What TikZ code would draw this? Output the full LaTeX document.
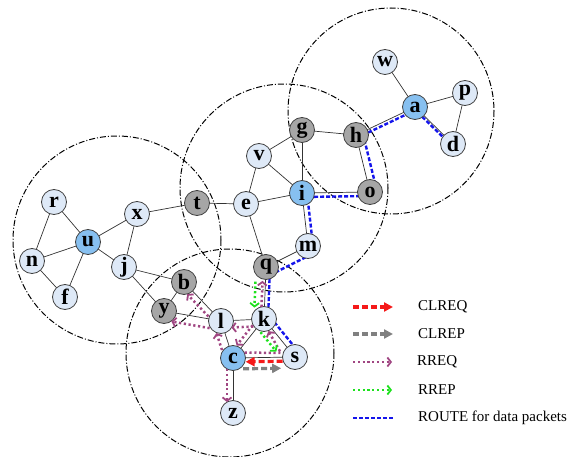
\documentclass[tikz,border=0pt]{standalone}
\usepackage{fontspec}
\setmainfont{Liberation Serif}
\usetikzlibrary{calc,arrows.meta,backgrounds}
\definecolor{nfill}{RGB}{222,233,247}
\definecolor{gfill}{RGB}{166,166,166}
\definecolor{hfill}{RGB}{135,192,240}
\definecolor{rreqc}{RGB}{160,70,130}
\definecolor{rrepc}{RGB}{30,225,30}
\definecolor{clreqc}{RGB}{245,25,25}
\definecolor{clrepc}{RGB}{128,128,128}
\definecolor{routec}{RGB}{20,20,235}
% offset line: style, from, to, offset (positive = left side), shorten start, shorten end
\newcommand\offl[6]{\draw[#1] ($($(#2)!#5!(#3)$)!#4!90:(#3)$) -- ($($(#3)!#6!(#2)$)!#4!-90:(#2)$);}
\begin{document}
\begin{tikzpicture}[x=1pt,y=-1pt,
  nd/.style={circle,draw=black!75,line width=0.8pt,minimum size=25pt,inner sep=0pt,
    font=\fontsize{22}{22}\selectfont\bfseries},
  plain/.style={nd,fill=nfill},
  gate/.style={nd,fill=gfill},
  head/.style={nd,fill=hfill},
  edge/.style={draw=black!80,line width=0.7pt},
  zone/.style={draw=black,line width=1pt,dash pattern=on 6pt off 2pt on 1pt off 2pt},
  route/.style={draw=routec,line width=2.4pt,dash pattern=on 4pt off 2pt},
  clreq/.style={draw=clreqc,line width=3.2pt,dash pattern=on 6pt off 3pt,
    -{Triangle[length=9pt,width=9pt]}},
  clrep/.style={draw=clrepc,line width=3.2pt,dash pattern=on 6pt off 3pt,
    -{Triangle[length=9pt,width=9pt]}},
  rreq/.style={draw=rreqc,line width=2.5pt,dash pattern=on 2.2pt off 2.6pt,
    -{Straight Barb[length=3.5pt,width=9pt,line width=1.8pt]}},
  rrep/.style={draw=rrepc,line width=2.5pt,dash pattern=on 2.2pt off 2.6pt,
    -{Straight Barb[length=3.5pt,width=9pt,line width=1.8pt]}},
  legtext/.style={anchor=west,inner sep=0pt,font=\fontsize{15}{15}\selectfont}
]
\useasboundingbox (0,0) rectangle (575,457);
% nodes
\path
  (385,62)  node[plain] (w) {w}
  (415,107) node[head]  (a) {a}
  (465,93)  node[plain] (p) {p}
  (453,144) node[plain] (d) {d}
  (356,135) node[gate]  (h) {h}
  (302,130) node[gate]  (g) {g}
  (370,192) node[gate]  (o) {o}
  (302,193) node[head]  (i) {i}
  (259,156) node[plain] (v) {v}
  (246,204) node[plain] (e) {e}
  (197,203) node[gate]  (t) {t}
  (308,246) node[plain] (m) {m}
  (266,267) node[gate]  (q) {q}
  (54,202)  node[plain] (r) {r}
  (88,242)  node[head]  (u) {u}
  (137,214) node[plain] (x) {x}
  (32,261)  node[plain] (n) {n}
  (65,297)  node[plain] (f) {f}
  (124,267) node[plain] (j) {j}
  (184,282) node[gate]  (b) {b}
  (164,311) node[gate]  (y) {y}
  (221,321) node[plain] (l) {l}
  (264,319) node[plain] (k) {k}
  (233,358) node[head]  (c) {c}
  (295,357) node[plain] (s) {s}
  (233,413) node[plain] (z) {z};
\begin{pgfonlayer}{background}
% zones
\coordinate (Z1) at (117,240);
\coordinate (Z2) at (284,188);
\coordinate (Z3) at (230,353);
\coordinate (Z4) at (391,111);
\draw[zone] (Z1) circle[radius=104];
\draw[zone] (Z2) circle[radius=104];
\draw[zone] (Z3) circle[radius=104];
\draw[zone] (Z4) circle[radius=103];
% edges
\foreach \u/\v in {w/a,a/p,p/d,a/d,a/h,h/g,h/o,g/i,g/v,v/i,v/e,e/t,e/i,i/o,i/m,m/q,e/q,
  t/x,x/u,x/j,u/r,u/n,u/f,u/j,r/n,n/f,j/b,j/y,b/y,y/l,b/l,l/k,l/c,k/c,k/s,c/s,k/q,c/z}
  \draw[edge] (\u.center) -- (\v.center);
% route for data packets
\offl{route}{s.center}{k.center}{-6pt}{0pt}{0pt}
\offl{route}{k.center}{q.center}{-4pt}{0pt}{0pt}
\offl{route}{q.center}{m.center}{-9pt}{0pt}{0pt}
\offl{route}{m.center}{i.center}{-5pt}{0pt}{0pt}
\offl{route}{i.center}{o.center}{-4pt}{0pt}{0pt}
\offl{route}{o.center}{h.center}{-7pt}{0pt}{0pt}
\offl{route}{h.center}{a.center}{-3pt}{0pt}{0pt}
\offl{route}{a.center}{d.center}{-2pt}{0pt}{0pt}
\end{pgfonlayer}
% CLREQ / CLREP
\offl{clreq}{s}{c}{4pt}{12.5pt}{12.5pt}
\offl{clrep}{c}{s}{-11pt}{10pt}{14pt}
% RREQ
\offl{rreq}{c}{l}{8pt}{11pt}{10pt}
\offl{rreq}{c}{z}{-6pt}{11pt}{11pt}
\offl{rreq}{l}{y}{9pt}{10pt}{9pt}
\offl{rreq}{l}{b}{6pt}{12pt}{11pt}
\offl{rreq}{k}{l}{7pt}{11pt}{10pt}
\offl{rreq}{k}{c}{-5pt}{12pt}{12pt}
\offl{rreq}{k}{q}{3pt}{12pt}{14pt}
\draw[rreq] (c.25) -- ($(s)+(-14,-4)$) -- (k.-70);
% RREP
\offl{rrep}{q}{k}{-10pt}{15pt}{11pt}
\offl{rrep}{k}{s}{-11pt}{8pt}{16pt}
% legend
\node[legtext] (L1) at (418,307) {CLREQ};
\node[legtext] (L2) at (418,334) {CLREP};
\node[legtext] (L3) at (417,362) {RREQ};
\node[legtext] (L4) at (418,390) {RREP};
\node[legtext] (L5) at (418,418) {ROUTE for data packets};
\coordinate (L1a) at (353,307); \coordinate (L1b) at (393,307);
\coordinate (L2a) at (353,334); \coordinate (L2b) at (393,334);
\coordinate (L3a) at (353,362); \coordinate (L3b) at (392,362);
\coordinate (L4a) at (353,390); \coordinate (L4b) at (392,390);
\coordinate (L5a) at (353,418); \coordinate (L5b) at (393,418);
\draw[clreq] (L1a) -- (L1b);
\draw[clrep] (L2a) -- (L2b);
\draw[rreq] (L3a) -- (L3b);
\draw[rrep] (L4a) -- (L4b);
\draw[route] (L5a) -- (L5b);
\end{tikzpicture}
\end{document}
